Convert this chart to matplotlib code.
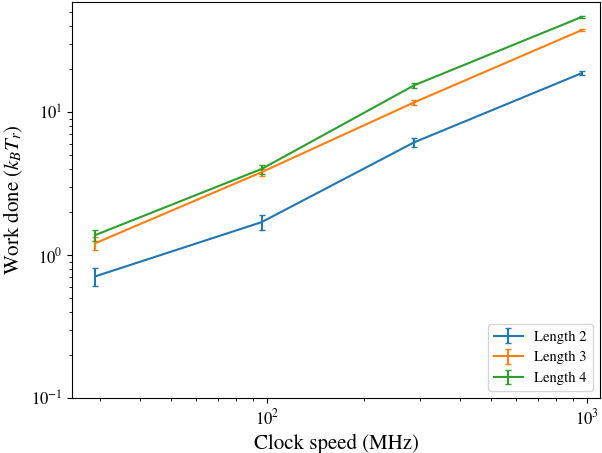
import numpy as np
import matplotlib
matplotlib.use("Agg")
import matplotlib.pyplot as plt

plt.rcParams["font.family"] = "STIXGeneral"
plt.rcParams["mathtext.fontset"] = "stix"

# data
clock_speed = [29, 96, 288, 960]
work_len2 = [0.71, 1.70, 6.15, 18.7]
err_len2 = [0.10, 0.20, 0.45, 0.6]
work_len3 = [1.21, 3.80, 11.7, 37.4]
err_len3 = [0.13, 0.22, 0.45, 0.8]
work_len4 = [1.38, 4.00, 15.4, 46.2]
err_len4 = [0.12, 0.28, 0.55, 1.0]
labels = ["Length 2", "Length 3", "Length 4"]

fig, ax = plt.subplots(figsize=(6.02, 4.53), dpi=100)
for work, err, lab in zip([work_len2, work_len3, work_len4],
                          [err_len2, err_len3, err_len4], labels):
    ax.errorbar(clock_speed, work, yerr=err, capsize=2, label=lab)

ax.set_xscale("log")
ax.set_yscale("log")
ax.set_xlim(24.6, 1097)
ax.set_ylim(0.1, 59)
ax.set_xlabel("Clock speed (MHz)", fontsize=15)
ax.set_ylabel("Work done ($k_B T_r$)", fontsize=15)
ax.tick_params(labelsize=12)
ax.legend(loc="lower right", fontsize=10.5)

plt.subplots_adjust(left=0.12, right=0.997, top=0.996, bottom=0.121)
plt.savefig("out.png")
